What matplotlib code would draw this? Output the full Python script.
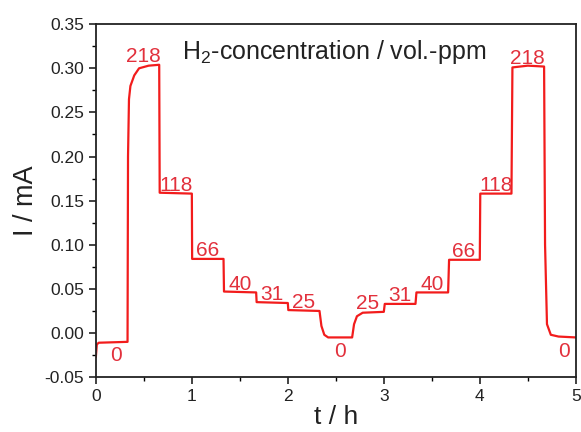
import matplotlib
matplotlib.use('Agg')
import matplotlib.pyplot as plt
from matplotlib.ticker import MultipleLocator, FormatStrFormatter

plt.rcParams['font.family'] = ['Liberation Sans', 'DejaVu Sans']
plt.rcParams['mathtext.fontset'] = 'custom'
plt.rcParams['mathtext.rm'] = 'Liberation Sans'

# current trace, points (t in h, I in mA)
t_curve = [0.0, 0.01, 0.03, 0.33, 0.335, 0.345, 0.36, 0.40, 0.45, 0.55, 0.66,
           0.665, 1.0, 1.003, 1.33, 1.335, 1.67, 1.675, 2.0, 2.005, 2.33,
           2.35, 2.38, 2.42, 2.67, 2.69, 2.72, 2.78, 3.0, 3.01, 3.33, 3.34,
           3.67, 3.68, 4.0, 4.005, 4.33, 4.34, 4.50, 4.67, 4.68, 4.70, 4.74,
           4.82, 5.0]
i_curve = [-0.027, -0.013, -0.011, -0.010, 0.20, 0.265, 0.280, 0.292, 0.300,
           0.303, 0.304, 0.159, 0.158, 0.084, 0.084, 0.047, 0.046, 0.035,
           0.034, 0.026, 0.025, 0.008, -0.002, -0.005, -0.005, 0.010, 0.019,
           0.023, 0.024, 0.033, 0.033, 0.046, 0.046, 0.083, 0.083, 0.158,
           0.158, 0.301, 0.303, 0.302, 0.10, 0.010, -0.002, -0.004, -0.005]

# concentration steps
t_edges = [0, 0.33, 0.67, 1.0, 1.33, 1.67, 2.0, 2.33, 2.67, 3.0, 3.33, 3.67,
           4.0, 4.33, 4.67, 5.0]
levels = [-0.010, 0.304, 0.158, 0.084, 0.046, 0.034, 0.025, -0.005, 0.024,
          0.033, 0.046, 0.083, 0.158, 0.302, -0.005]
conc = [0, 218, 118, 66, 40, 31, 25, 0, 25, 31, 40, 66, 118, 218, 0]

line_col = '#f21c1c'
text_col = '#e2303c'

fig = plt.figure(figsize=(5.81, 4.32), dpi=100)
ax = fig.add_axes([0.165, 0.127, 0.826, 0.817])

ax.plot(t_curve, i_curve, color=line_col, lw=1.6)

for k in range(len(conc)):
    tm = 0.5 * (t_edges[k] + t_edges[k + 1])
    if conc[k] == 0:
        ax.annotate(str(conc[k]), (tm + 0.04, levels[k]), xytext=(0, -3),
                    textcoords='offset points', ha='center', va='top',
                    color=text_col, fontsize=15)
    else:
        ax.annotate(str(conc[k]), (tm, levels[k]), xytext=(0, -1),
                    textcoords='offset points', ha='center', va='bottom',
                    color=text_col, fontsize=15)

ax.text(0.496, 0.921, r'H$_\mathrm{2}$-concentration / vol.-ppm',
        transform=ax.transAxes, ha='center', va='center', fontsize=18,
        color='#222222')

ax.set_xlim(0, 5)
ax.set_ylim(-0.05, 0.35)
ax.xaxis.set_major_locator(MultipleLocator(1))
ax.xaxis.set_minor_locator(MultipleLocator(0.5))
ax.yaxis.set_major_locator(MultipleLocator(0.05))
ax.yaxis.set_minor_locator(MultipleLocator(0.025))
ax.yaxis.set_major_formatter(FormatStrFormatter('%.2f'))
ax.tick_params(which='major', direction='out', length=5, width=1.2,
               labelsize=12.5, colors='#222222')
ax.tick_params(which='minor', direction='out', length=3, width=1.0)
for s in ax.spines.values():
    s.set_linewidth(1.3)
    s.set_color('#222222')

ax.set_xlabel('t / h', fontsize=19, color='#222222', labelpad=0.5)
ax.set_ylabel('I / mA', fontsize=19.5, color='#222222', labelpad=4)

fig.savefig('out.png', dpi=100)
